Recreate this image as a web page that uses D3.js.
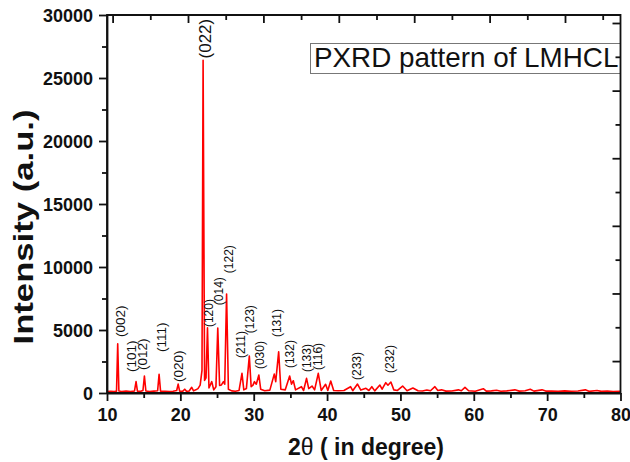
<!DOCTYPE html>
<html>
<head>
<meta charset="utf-8">
<script src="https://cdn.jsdelivr.net/npm/d3@7"></script>
<style>
  body { margin: 0; background: #fff; }
  svg text { font-family: "Liberation Sans", Arial, sans-serif; }
  .tick-label { font-size: 18px; font-weight: bold; fill: #111; }
  .title { font-size: 23px; font-weight: bold; fill: #111; }
</style>
</head>
<body>
<main></main>
<script>
// diffraction pattern: 2θ (deg) and intensity (a.u.)
const twoTheta = [
  10.0, 10.5, 11.0, 11.3, 11.46, 11.62, 12.0, 12.6, 13.2, 13.75, 13.96, 14.15,
  14.6, 14.9, 15.1, 15.3, 15.8, 16.4, 16.9, 17.1, 17.3, 17.9, 18.5, 19.0,
  19.5, 19.7, 19.9, 20.3, 20.6, 20.85, 21.2, 21.55, 21.8, 22.1, 22.4, 22.7,
  22.95, 23.1, 23.3, 23.5, 23.7, 23.9, 24.28, 24.55, 24.85, 25.1, 25.35, 25.6,
  25.87, 26.05, 26.3, 26.55, 27.0, 27.5, 28.0, 28.4, 28.65, 29.0, 29.4, 29.65,
  29.9, 30.1, 30.35, 30.7, 30.95, 31.5, 32.2, 32.8, 33.0, 33.4, 33.7, 34.3,
  34.9, 35.15, 35.4, 35.7, 36.5, 36.8, 37.2, 37.5, 37.95, 38.3, 38.8, 39.2,
  39.8, 40.1, 40.5, 40.9, 41.5, 42.3, 43.2, 43.5, 44.15, 44.6, 45.3, 45.7,
  46.1, 46.5, 47.2, 47.5, 48.0, 48.3, 48.7, 49.1, 49.6, 50.3, 50.9, 51.7,
  52.4, 53.0, 53.6, 54.1, 54.7, 55.1, 55.6, 56.2, 57.0, 57.9, 58.3, 58.8,
  59.3, 60.2, 61.3, 61.7, 62.4, 63.1, 63.7, 64.5, 65.6, 66.2, 67.0, 67.7,
  68.2, 69.3, 69.8, 70.6, 71.5, 72.4, 73.3, 74.2, 75.2, 75.7, 76.8, 77.4,
  78.2, 79.0, 80.0
];
const intensity = [
  120, 140, 110, 150, 3900, 160, 120, 150, 110, 160, 900, 150,
  130, 200, 1350, 160, 120, 150, 180, 1480, 150, 130, 110, 140,
  200, 710, 150, 130, 300, 130, 160, 450, 170, 250, 350, 620,
  1800, 26400, 1000, 1200, 5170, 400, 900, 250, 500, 5150, 600, 640,
  900, 700, 7850, 300, 170, 140, 200, 1560, 250, 350, 2930, 500,
  630, 900, 700, 1430, 300, 180, 230, 1500, 900, 3270, 300, 250,
  1350, 700, 975, 250, 500, 200, 1160, 350, 550, 250, 1560, 200,
  690, 200, 950, 200, 180, 200, 500, 180, 710, 230, 370, 200,
  500, 170, 630, 300, 820, 620, 870, 250, 200, 550, 180, 400,
  180, 160, 240, 180, 500, 200, 250, 150, 160, 250, 180, 450,
  180, 140, 340, 150, 170, 220, 140, 170, 250, 150, 180, 300,
  150, 250, 150, 160, 130, 170, 140, 160, 250, 130, 200, 130,
  150, 120, 140
];

// Miller index labels: where they sit (2θ) and the intensity level of their foot
const hkl = ["(002)", "(101)", "(012)", "(111)", "(020)", "(022)", "(120)", "(014)", "(122)",
  "(211)", "(123)", "(030)", "(131)", "(132)", "(133)", "(116)", "(233)", "(232)"];
const hklTheta = [11.85, 13.4, 14.95, 17.45, 19.8, 23.45, 24.0, 25.35, 26.75,
  28.35, 29.55, 30.95, 33.25, 35.05, 37.25, 38.85, 44.15, 48.65];
const hklFoot = [4440, 1660, 1820, 3250, 870, 26550, 5230, 6970, 9510,
  2770, 4750, 1900, 4440, 1980, 1660, 1820, 1030, 1580];
const mediumLabels = ["(002)", "(101)", "(012)", "(111)", "(020)"];
const bigLabel = "(022)";

const xTicks = [10, 20, 30, 40, 50, 60, 70, 80];
const yTicks = [0, 5000, 10000, 15000, 20000, 25000, 30000];
const legendText = "PXRD pattern of LMHCL";

const W = 630, H = 462;
const plot = {left: 107, right: 620.5, top: 15, bottom: 393};

const x = d3.scaleLinear().domain([10, 80]).range([plot.left, plot.right]);
const y = d3.scaleLinear().domain([0, 30000]).range([plot.bottom, plot.top]);
// the mirrored top/right axes in the original are slightly off-scale
const xTop = d3.scaleLinear().domain([10, 80]).range([112.6, 640.4]);
const yRight = d3.scaleLinear().domain([0, 30000]).range([428.7, 23]);

const svg = d3.select("main").append("svg")
    .attr("width", W)
    .attr("height", H);

// curve
const line = d3.line()
    .x((d, i) => x(twoTheta[i]))
    .y(d => y(d));

svg.append("path")
    .datum(intensity)
    .attr("d", line)
    .attr("fill", "none")
    .attr("stroke", "#ff0000")
    .attr("stroke-width", 1.6)
    .attr("stroke-linejoin", "round");

// hkl labels
svg.selectAll(".hkl")
    .data(hkl)
  .enter().append("text")
    .attr("class", "hkl")
    .attr("transform", (d, i) => `translate(${x(hklTheta[i])},${y(hklFoot[i])}) rotate(-90)`)
    .attr("dy", "0.3em")
    .style("font-size", d => d === bigLabel ? "17px" : (mediumLabels.includes(d) ? "13.5px" : "12px"))
    .style("fill", "#111")
    .text(d => d);

// legend box
svg.append("rect")
    .attr("x", 310.5).attr("y", 43.5)
    .attr("width", plot.right - 310.5).attr("height", 30)
    .attr("fill", "#fff")
    .attr("stroke", "#777")
    .attr("stroke-width", 1);
svg.append("text")
    .attr("x", 314).attr("y", 67)
    .style("font-size", "27.8px")
    .style("fill", "#111")
    .text(legendText);

// axes
const minor = (arr) => arr.slice(0, -1).map((v, i) => (v + arr[i + 1]) / 2);

const bottomMinor = svg.append("g").attr("transform", `translate(0,${plot.bottom})`)
    .call(d3.axisBottom(x).tickValues(minor(xTicks)).tickSize(5).tickFormat(""));
bottomMinor.select(".domain").remove();
const bottomMajor = svg.append("g").attr("transform", `translate(0,${plot.bottom})`)
    .call(d3.axisBottom(x).tickValues(xTicks).tickSize(8).tickPadding(5).tickSizeOuter(0));
bottomMajor.selectAll("text").attr("class", "tick-label").attr("dy", "0.85em");

const leftMinor = svg.append("g").attr("transform", `translate(${plot.left},0)`)
    .call(d3.axisLeft(y).tickValues(minor(yTicks)).tickSize(5).tickFormat(""));
leftMinor.select(".domain").remove();
const leftMajor = svg.append("g").attr("transform", `translate(${plot.left},0)`)
    .call(d3.axisLeft(y).tickValues(yTicks).tickSize(8).tickPadding(6).tickSizeOuter(0)
      .tickFormat(d3.format("d")));
leftMajor.selectAll("text").attr("class", "tick-label").attr("dy", "0.36em");

// top axis, inward ticks
const inX = v => xTop(v) < plot.right - 1;
const topAx = svg.append("g").attr("transform", `translate(0,${plot.top})`)
    .call(d3.axisTop(xTop).tickValues(d3.range(10, 80, 10).filter(inX)).tickSize(-8).tickFormat(""));
topAx.select(".domain").remove();
const topAx2 = svg.append("g").attr("transform", `translate(0,${plot.top})`)
    .call(d3.axisTop(xTop).tickValues(d3.range(15, 80, 10).filter(inX)).tickSize(-5).tickFormat(""));
topAx2.select(".domain").remove();

// right axis, inward ticks
const inY = v => yRight(v) > plot.top + 1 && yRight(v) < plot.bottom - 1;
const rAx = svg.append("g").attr("transform", `translate(${plot.right},0)`)
    .call(d3.axisRight(yRight).tickValues(d3.range(5000, 30001, 5000).filter(inY)).tickSize(-8).tickFormat(""));
rAx.select(".domain").remove();
const rAx2 = svg.append("g").attr("transform", `translate(${plot.right},0)`)
    .call(d3.axisRight(yRight).tickValues(d3.range(2500, 30001, 5000).filter(inY)).tickSize(-5).tickFormat(""));
rAx2.select(".domain").remove();

// frame
svg.append("path")
    .attr("d", `M${plot.left},${plot.top}H${plot.right}V${plot.bottom}H${plot.left}Z`)
    .attr("fill", "none")
    .attr("stroke", "#111")
    .attr("stroke-width", 1.8);

svg.selectAll(".tick line").attr("stroke", "#111").attr("stroke-width", 1.8);
svg.selectAll(".domain").attr("stroke", "#111").attr("stroke-width", 1.8);

// axis titles
const xTitle = svg.append("text")
    .attr("class", "title")
    .attr("x", 366).attr("y", 455)
    .attr("text-anchor", "middle");
xTitle.append("tspan").text("2");
xTitle.append("tspan").style("font-weight", "normal").text("θ");
xTitle.append("tspan").text(" ( in degree)");

svg.append("text")
    .attr("class", "title")
    .attr("transform", "translate(33,227) rotate(-90)")
    .attr("text-anchor", "middle")
    .style("font-size", "28px")
    .attr("textLength", 235)
    .attr("lengthAdjust", "spacingAndGlyphs")
    .text("Intensity (a.u.)");
</script>
</body>
</html>
